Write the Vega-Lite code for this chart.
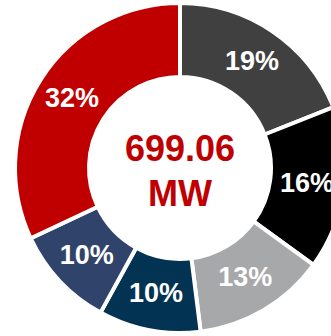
{
  "$schema": "https://vega.github.io/schema/vega-lite/v6.json",
  "width": 360,
  "height": 336,
  "padding": 0,
  "autosize": {"type": "none"},
  "background": "white",
  "config": {"view": {"stroke": null}},
  "datasets": {
    "segments": [
      {"segment": "S1", "idx": 1, "share": 19, "label": "19%"},
      {"segment": "S2", "idx": 2, "share": 16, "label": "16%"},
      {"segment": "S3", "idx": 3, "share": 13, "label": "13%"},
      {"segment": "S4", "idx": 4, "share": 10, "label": "10%"},
      {"segment": "S5", "idx": 5, "share": 10, "label": "10%"},
      {"segment": "S6", "idx": 6, "share": 32, "label": "32%"}
    ],
    "center": [{"text": "699.06\nMW"}]
  },
  "layer": [
    {
      "data": {"name": "segments"},
      "mark": {"type": "arc", "innerRadius": 91, "outerRadius": 165, "stroke": "white", "strokeWidth": 4},
      "encoding": {
        "theta": {"field": "share", "type": "quantitative", "stack": true},
        "order": {"field": "idx", "type": "quantitative", "sort": "ascending"},
        "color": {
          "field": "segment", "type": "nominal", "legend": null,
          "scale": {
            "domain": ["S1", "S2", "S3", "S4", "S5", "S6"],
            "range": ["#404040", "#000000", "#a7a8aa", "#033352", "#30446b", "#c00000"]
          }
        }
      }
    },
    {
      "data": {"name": "segments"},
      "mark": {"type": "text", "radius": 128, "font": "Liberation Sans", "fontWeight": "bold", "fontSize": 27, "color": "white", "align": "center", "baseline": "middle"},
      "encoding": {
        "theta": {"field": "share", "type": "quantitative", "stack": true},
        "order": {"field": "idx", "type": "quantitative", "sort": "ascending"},
        "text": {"field": "label", "type": "nominal"}
      }
    },
    {
      "data": {"name": "center"},
      "mark": {"type": "text", "font": "Liberation Sans", "fontWeight": "bold", "fontSize": 36, "color": "#c00000", "align": "center", "baseline": "middle", "lineBreak": "\n", "lineHeight": 45, "dy": -18},
      "encoding": {
        "text": {"field": "text", "type": "nominal"}
      }
    }
  ]
}
